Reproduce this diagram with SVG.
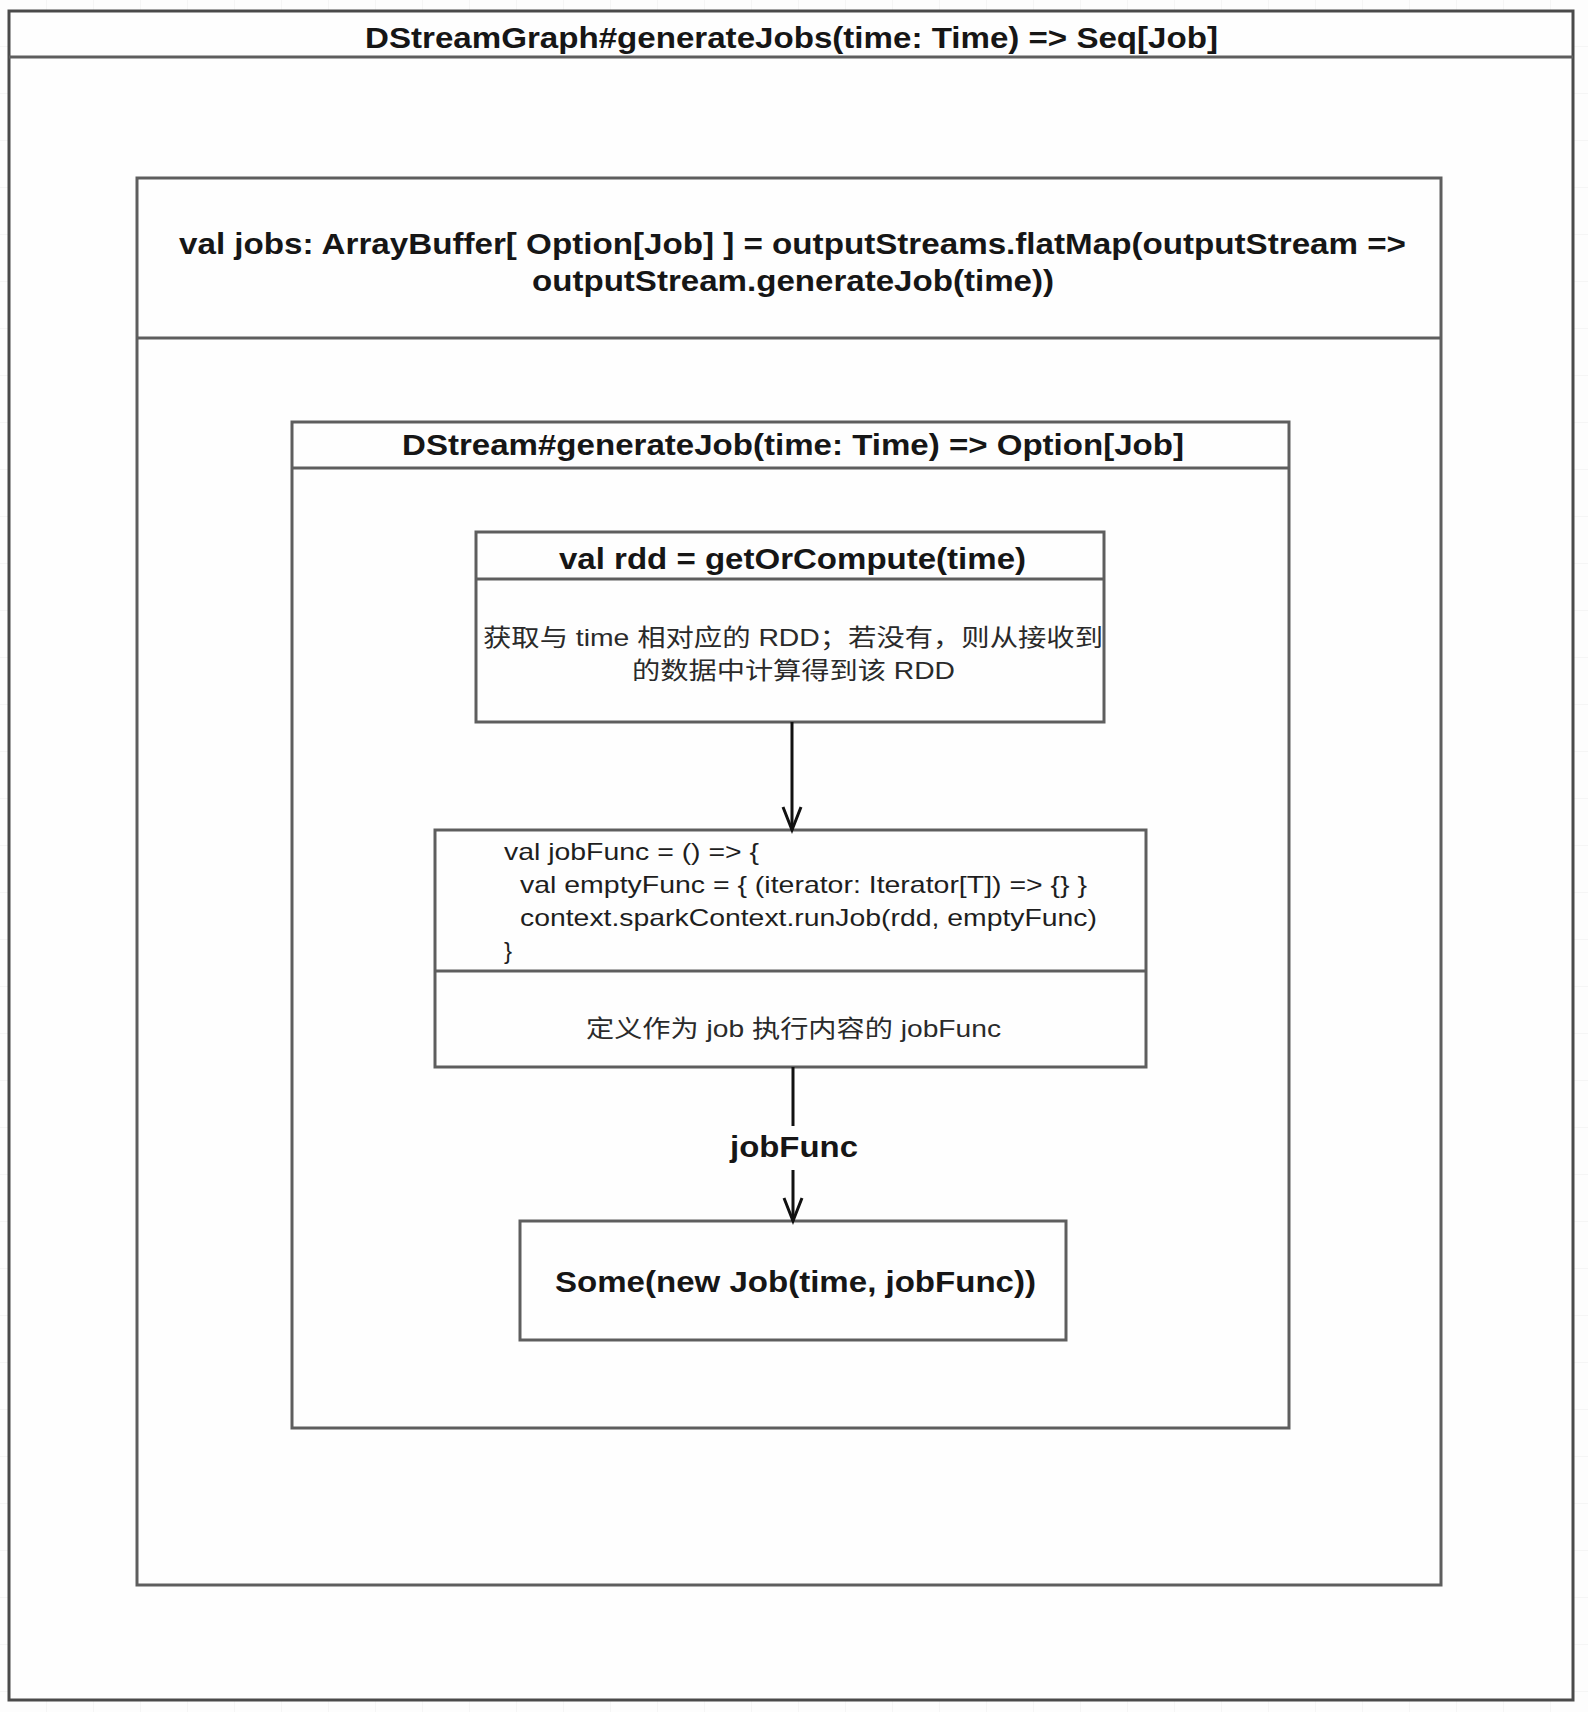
<svg xmlns="http://www.w3.org/2000/svg" width="1588" height="1712" viewBox="0 0 1588 1712">
<style>
.box{fill:#fefefe;stroke:#5e5e5e;stroke-width:3}
.outer{fill:#fefefe;stroke:#4a4a4a;stroke-width:3}
.div{fill:none;stroke:#5e5e5e;stroke-width:3}
.b{font-family:"Liberation Sans",Arial,sans-serif;font-weight:bold;font-size:29px;fill:#161616}
.r{font-family:"Liberation Sans",Arial,sans-serif;font-size:24px;fill:#1e1e1e}
.cjk{font-family:"Liberation Sans","Noto Sans CJK SC",sans-serif;font-size:24px;fill:#2a2a2a}
.conn{fill:none;stroke:#111;stroke-width:3}
</style>
<defs>
<pattern id="grid" width="47" height="47" patternUnits="userSpaceOnUse"><path d="M47 0V47H0" fill="none" stroke="#ececec" stroke-width="1"/></pattern>
<marker id="arr" markerUnits="userSpaceOnUse" markerWidth="40" markerHeight="40" viewBox="-30 -20 40 40" refX="0" refY="0" orient="auto" overflow="visible"><path d="M-23,-9 L0,0 L-23,9" fill="none" stroke="#111" stroke-width="3"/></marker>
</defs>
<rect width="1588" height="1712" fill="#fdfdfd"/>
<rect width="1588" height="1712" fill="url(#grid)"/>

<g id="generate-jobs">
<rect class="outer" x="9" y="11" width="1564" height="1689"/>
<line class="div" x1="9" y1="57" x2="1573" y2="57"/>
<text class="b" x="365" y="48" textLength="853" lengthAdjust="spacingAndGlyphs">DStreamGraph#generateJobs(time: Time) =&gt; Seq[Job]</text>
</g>

<g id="jobs-buffer">
<rect class="box" x="137" y="178" width="1304" height="1407"/>
<line class="div" x1="137" y1="338" x2="1441" y2="338"/>
<text class="b" x="179" y="254" textLength="1227" lengthAdjust="spacingAndGlyphs">val jobs: ArrayBuffer[ Option[Job] ] = outputStreams.flatMap(outputStream =&gt;</text>
<text class="b" x="532" y="291" textLength="522" lengthAdjust="spacingAndGlyphs">outputStream.generateJob(time))</text>
</g>

<g id="generate-job">
<rect class="box" x="292" y="422" width="997" height="1006"/>
<line class="div" x1="292" y1="468" x2="1289" y2="468"/>
<text class="b" x="402" y="455" textLength="782" lengthAdjust="spacingAndGlyphs">DStream#generateJob(time: Time) =&gt; Option[Job]</text>
</g>

<g id="get-or-compute">
<rect class="box" x="476" y="532" width="628" height="190"/>
<line class="div" x1="476" y1="579" x2="1104" y2="579"/>
<text class="b" x="559" y="569" textLength="467" lengthAdjust="spacingAndGlyphs">val rdd = getOrCompute(time)</text>
<text class="cjk" x="483" y="646" textLength="620" lengthAdjust="spacingAndGlyphs">获取与 time 相对应的 RDD；若没有，则从接收到</text>
<text class="cjk" x="632" y="679" textLength="323" lengthAdjust="spacingAndGlyphs">的数据中计算得到该 RDD</text>
</g>

<g id="job-func">
<rect class="box" x="435" y="830" width="711" height="237"/>
<line class="div" x1="435" y1="971" x2="1146" y2="971"/>
<text class="r" x="504" y="860" textLength="255" lengthAdjust="spacingAndGlyphs">val jobFunc = () =&gt; {</text>
<text class="r" x="520" y="893" textLength="567" lengthAdjust="spacingAndGlyphs">val emptyFunc = { (iterator: Iterator[T]) =&gt; {} }</text>
<text class="r" x="520" y="926" textLength="577" lengthAdjust="spacingAndGlyphs">context.sparkContext.runJob(rdd, emptyFunc)</text>
<text class="r" x="504" y="959">}</text>
<text class="cjk" x="586" y="1037" textLength="415" lengthAdjust="spacingAndGlyphs">定义作为 job 执行内容的 jobFunc</text>
</g>

<g id="some-job">
<rect class="box" x="520" y="1221" width="546" height="119"/>
<text class="b" x="555" y="1292" textLength="481" lengthAdjust="spacingAndGlyphs">Some(new Job(time, jobFunc))</text>
</g>

<g id="connectors">
<path class="conn" d="M792 722V830" marker-end="url(#arr)"/>
<path class="conn" d="M793 1067V1126"/>
<path class="conn" d="M793 1170V1221" marker-end="url(#arr)"/>
<text class="b" x="730" y="1157" textLength="128" lengthAdjust="spacingAndGlyphs">jobFunc</text>
</g>
</svg>
